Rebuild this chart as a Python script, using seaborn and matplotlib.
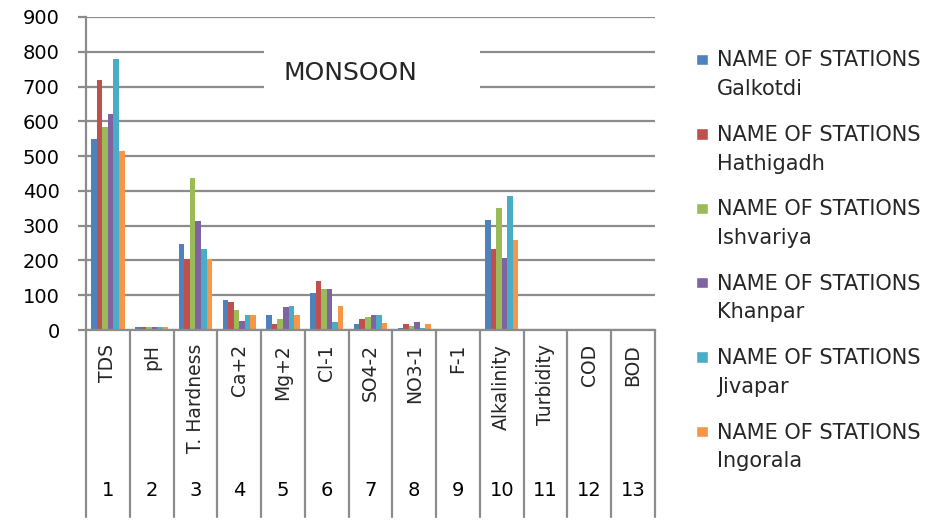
import numpy as np
import pandas as pd
import matplotlib
matplotlib.use("Agg")
import matplotlib.pyplot as plt
import matplotlib.transforms as mtransforms
from matplotlib.patches import Rectangle
from matplotlib.legend_handler import HandlerPatch
import seaborn as sns

# ---------------- data ----------------
parameters = ["TDS", "pH", "T. Hardness", "Ca+2", "Mg+2", "Cl-1", "SO4-2",
              "NO3-1", "F-1", "Alkalinity", "Turbidity", "COD", "BOD"]
param_numbers = ["1", "2", "3", "4", "5", "6", "7", "8", "9", "10", "11", "12", "13"]
stations = ["Galkotdi", "Hathigadh", "Ishvariya", "Khanpar", "Jivapar", "Ingorala"]

galkotdi  = [550, 7.5, 248, 86, 43, 107, 16, 5, 0.3, 316, 0, 0, 0]
hathigadh = [720, 7.8, 204, 81, 17, 140, 32, 16, 0.3, 234, 0, 0, 0]
ishvariya = [585, 7.6, 436, 58, 32, 118, 37, 11, 0.3, 352, 0, 0, 4]
khanpar   = [620, 7.4, 312, 26, 66, 118, 43, 22, 0.3, 206, 0, 0, 0]
jivapar   = [780, 7.7, 232, 43, 70, 22, 43, 5, 0.3, 386, 0, 0, 0]
ingorala  = [515, 7.5, 204, 43, 43, 70, 21, 16, 0.3, 260, 0, 0, 0]

title_text = "MONSOON"
legend_prefix = "NAME OF STATIONS"

series = [galkotdi, hathigadh, ishvariya, khanpar, jivapar, ingorala]
labels = [f"{legend_prefix}\n{s}" for s in stations]
rows = []
for lab, vals in zip(labels, series):
    for p, v in zip(parameters, vals):
        rows.append({"Parameter": p, "Station": lab, "Value": v})
df = pd.DataFrame(rows)

colors = ["#4F81BD", "#C0504D", "#9BBB59", "#8064A2", "#4BACC6", "#F79646"]
grid_col = "#8C8C8C"

# ---------------- figure ----------------
sns.set_style("white")
plt.rcParams["font.family"] = ["DejaVu Sans"]

fig = plt.figure(figsize=(9.48, 5.28), dpi=100)
ax = fig.add_axes([86 / 948, 1 - 330 / 528, (655 - 86) / 948, (330 - 17) / 528])

sns.barplot(data=df, x="Parameter", y="Value", hue="Station", order=parameters,
            hue_order=labels, palette=colors, width=0.76, saturation=1,
            errorbar=None, ax=ax, zorder=2, linewidth=0, edgecolor="none")

ax.set_ylim(0, 900)
ax.set_xlim(-0.5, len(parameters) - 0.5)
ax.set_yticks(np.arange(0, 901, 100))
ax.yaxis.grid(True, color=grid_col, linewidth=1.6, zorder=0)
ax.set_axisbelow(True)
ax.set_xlabel("")
ax.set_ylabel("")

for side in ["top", "right"]:
    ax.spines[side].set_visible(False)
ax.spines["left"].set_color(grid_col)
ax.spines["left"].set_linewidth(1.6)
ax.spines["bottom"].set_color(grid_col)
ax.spines["bottom"].set_linewidth(1.6)

ax.tick_params(axis="y", length=6, width=1.6, color=grid_col, pad=13,
               labelsize=14, labelcolor="black", left=True)
ax.tick_params(axis="x", length=0, pad=10, labelsize=13.5)
ax.set_xticks(range(len(parameters)))
ax.set_xticklabels(parameters, rotation=90, va="top", ha="center")

# category separators extending down through the two label rows
trans = mtransforms.blended_transform_factory(ax.transData, ax.transAxes)
sep_bottom = -(517 - 330) / (330 - 17)
for b in np.arange(-0.5, len(parameters), 1.0):
    ax.plot([b, b], [0, sep_bottom], transform=trans, color=grid_col,
            linewidth=1.6, clip_on=False, zorder=3)

num_y = -(490 - 330) / (330 - 17)
for i, n in enumerate(param_numbers):
    ax.text(i, num_y, n, transform=trans, ha="center", va="center",
            fontsize=14, color="black")

# title with white box covering gridlines
ax.add_patch(Rectangle(((264 - 86) / 569, (330 - 108) / 313),
                       (480 - 264) / 569, (108 - 40) / 313,
                       transform=ax.transAxes, facecolor="white",
                       edgecolor="none", zorder=1))
ax.text((350 - 86) / 569, (330 - 73) / 313, title_text, transform=ax.transAxes,
        ha="center", va="center", fontsize=18, zorder=4)

# legend
ax.get_legend().remove()
handles = [Rectangle((0, 0), 1, 1, facecolor=c) for c in colors]
fs = 15


def square(legend, orig_handle, xdescent, ydescent, width, height, fontsize):
    s = 0.55 * fontsize
    return Rectangle((-xdescent, -ydescent + fontsize * 0.775), s, s)


leg = fig.legend(handles, labels, loc="upper left",
                 bbox_to_anchor=(686 / 948, 1 - 40 / 528),
                 frameon=False, fontsize=fs, handlelength=0.55, handleheight=0.5,
                 handletextpad=0.45, labelspacing=1.23, borderpad=0,
                 handler_map={Rectangle: HandlerPatch(patch_func=square)})
for t in leg.get_texts():
    t.set_linespacing(1.55)

fig.savefig("out.png", dpi=100)
